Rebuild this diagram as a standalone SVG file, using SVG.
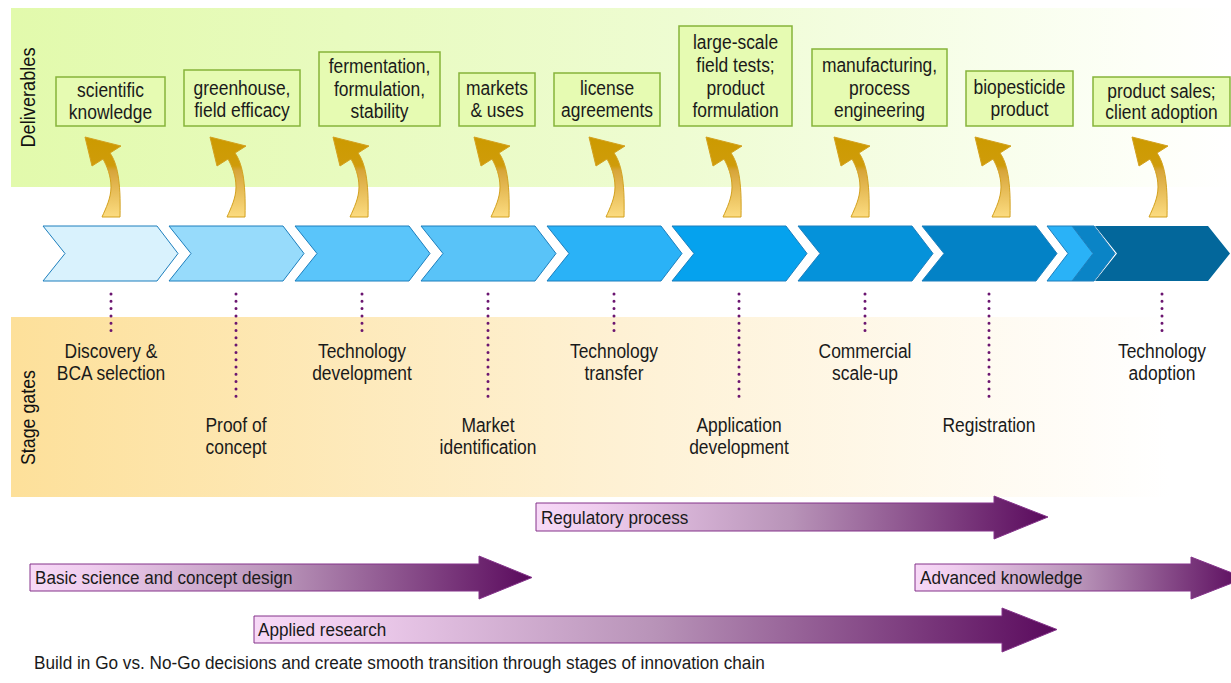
<svg xmlns="http://www.w3.org/2000/svg" xmlns:xlink="http://www.w3.org/1999/xlink" width="1231" height="683" viewBox="0 0 1231 683">
  <style>
    .lbl { font-family: "Liberation Sans", Arial, sans-serif; font-size: 21px; fill: #1a1a1a; text-anchor: middle; }
    .band { font-family: "Liberation Sans", Arial, sans-serif; font-size: 21px; fill: #111; text-anchor: middle; }
    .bar { font-family: "Liberation Sans", Arial, sans-serif; font-size: 19px; fill: #1a1a1a; }
    .box { fill: #e6fbb2; stroke: #86b43a; stroke-width: 1.5; }
    .chev { stroke: #1d7fbd; stroke-width: 1; }
    .gate { stroke: #6b1570; stroke-width: 3; stroke-linecap: round; stroke-dasharray: 0 7.3; fill: none; }
    .phase { fill: url(#purpleFade); stroke: #84338a; stroke-width: 1; }
    .curl { fill: url(#goldFade); stroke: #d3a11e; stroke-width: 1; }
  </style>
  <defs>
    <linearGradient id="greenBand" x1="0" y1="0" x2="1" y2="0">
      <stop offset="0" stop-color="#e2faac"/>
      <stop offset="0.55" stop-color="#eefcd2"/>
      <stop offset="0.93" stop-color="#fdfff8"/>
      <stop offset="1" stop-color="#ffffff"/>
    </linearGradient>
    <linearGradient id="orangeBand" x1="0" y1="0" x2="1" y2="0">
      <stop offset="0" stop-color="#fde09a"/>
      <stop offset="0.5" stop-color="#fef1d4"/>
      <stop offset="0.95" stop-color="#ffffff"/>
      <stop offset="1" stop-color="#ffffff"/>
    </linearGradient>
    <linearGradient id="purpleFade" x1="0" y1="0" x2="1" y2="0">
      <stop offset="0" stop-color="#f7d9f7"/>
      <stop offset="0.12" stop-color="#efcdee"/>
      <stop offset="0.5" stop-color="#b893b8"/>
      <stop offset="1" stop-color="#5a0a5d"/>
    </linearGradient>
    <linearGradient id="goldFade" x1="0" y1="0" x2="0" y2="1">
      <stop offset="0" stop-color="#cc9a00"/>
      <stop offset="0.36" stop-color="#cf9c0a"/>
      <stop offset="0.42" stop-color="#d7a53a"/>
      <stop offset="1" stop-color="#fcdc80"/>
    </linearGradient>
    <!-- curved arrow from a stage up to its deliverable -->
    <path id="curlShape" class="curl" d="M102,217 C106,208 111,198 111,187 C111,176 107,166 103,159 L92,166 L85,137 L121,146 L110,153 C117,163 121,180 120,217 Z"/>
  </defs>

  <!-- background bands -->
  <rect x="11" y="8" width="1220" height="179" fill="url(#greenBand)"/>
  <rect x="11" y="317" width="1220" height="180" fill="url(#orangeBand)"/>
  <text class="band" transform="translate(34.5,97.5) rotate(-90)" textLength="100" lengthAdjust="spacingAndGlyphs">Deliverables</text>
  <text class="band" transform="translate(34.5,417.5) rotate(-90)" textLength="95" lengthAdjust="spacingAndGlyphs">Stage gates</text>

  <!-- deliverables (labels drawn in a condensed face) -->
  <g id="deliv-1"><rect class="box" x="56" y="77" width="109" height="49"/>
    <text class="lbl" transform="translate(110.5,97) scale(0.83,1)">scientific</text>
    <text class="lbl" transform="translate(110.5,119) scale(0.83,1)">knowledge</text></g>
  <g id="deliv-2"><rect class="box" x="184" y="70" width="116" height="56"/>
    <text class="lbl" transform="translate(242,95) scale(0.83,1)">greenhouse,</text>
    <text class="lbl" transform="translate(242,117) scale(0.83,1)">field efficacy</text></g>
  <g id="deliv-3"><rect class="box" x="319" y="52" width="121" height="74"/>
    <text class="lbl" transform="translate(379.5,73) scale(0.83,1)">fermentation,</text>
    <text class="lbl" transform="translate(379.5,95.5) scale(0.83,1)">formulation,</text>
    <text class="lbl" transform="translate(379.5,118) scale(0.83,1)">stability</text></g>
  <g id="deliv-4"><rect class="box" x="459" y="73" width="76" height="53"/>
    <text class="lbl" transform="translate(497,95) scale(0.83,1)">markets</text>
    <text class="lbl" transform="translate(497,117) scale(0.83,1)">&amp; uses</text></g>
  <g id="deliv-5"><rect class="box" x="554" y="73" width="106" height="53"/>
    <text class="lbl" transform="translate(607,95) scale(0.83,1)">license</text>
    <text class="lbl" transform="translate(607,117) scale(0.83,1)">agreements</text></g>
  <g id="deliv-6"><rect class="box" x="679" y="26" width="113" height="100"/>
    <text class="lbl" transform="translate(735.5,49) scale(0.83,1)">large-scale</text>
    <text class="lbl" transform="translate(735.5,72) scale(0.83,1)">field tests;</text>
    <text class="lbl" transform="translate(735.5,95) scale(0.83,1)">product</text>
    <text class="lbl" transform="translate(735.5,117) scale(0.83,1)">formulation</text></g>
  <g id="deliv-7"><rect class="box" x="812" y="49" width="135" height="77"/>
    <text class="lbl" transform="translate(879.5,72) scale(0.83,1)">manufacturing,</text>
    <text class="lbl" transform="translate(879.5,95) scale(0.83,1)">process</text>
    <text class="lbl" transform="translate(879.5,117) scale(0.83,1)">engineering</text></g>
  <g id="deliv-8"><rect class="box" x="966" y="71" width="107" height="55"/>
    <text class="lbl" transform="translate(1019.5,94) scale(0.83,1)">biopesticide</text>
    <text class="lbl" transform="translate(1019.5,116) scale(0.83,1)">product</text></g>
  <g id="deliv-9"><rect class="box" x="1093" y="77" width="137" height="49"/>
    <text class="lbl" transform="translate(1161.5,98) scale(0.83,1)">product sales;</text>
    <text class="lbl" transform="translate(1161.5,119) scale(0.83,1)">client adoption</text></g>

  <!-- connectors: curls, gate markers -->
  <g id="connectors">
    <use xlink:href="#curlShape"/>
    <use xlink:href="#curlShape" x="125"/>
    <use xlink:href="#curlShape" x="248"/>
    <use xlink:href="#curlShape" x="389"/>
    <use xlink:href="#curlShape" x="504"/>
    <use xlink:href="#curlShape" x="621"/>
    <use xlink:href="#curlShape" x="749"/>
    <use xlink:href="#curlShape" x="890"/>
    <use xlink:href="#curlShape" x="1047"/>
    <line class="gate" x1="111" y1="294" x2="111" y2="331"/>
    <line class="gate" x1="236" y1="294" x2="236" y2="403"/>
    <line class="gate" x1="362" y1="294" x2="362" y2="331"/>
    <line class="gate" x1="488" y1="294" x2="488" y2="403"/>
    <line class="gate" x1="614" y1="294" x2="614" y2="331"/>
    <line class="gate" x1="739" y1="294" x2="739" y2="403"/>
    <line class="gate" x1="865" y1="294" x2="865" y2="331"/>
    <line class="gate" x1="989" y1="294" x2="989" y2="403"/>
    <line class="gate" x1="1162" y1="294" x2="1162" y2="331"/>
  </g>

  <!-- stage chevrons -->
  <g id="stage-1"><polygon class="chev" fill="#d9f2fd" points="43,226 157,226 178,253.5 157,281 43,281 65,253.5"/></g>
  <g id="stage-2"><polygon class="chev" fill="#97dbfb" points="169,226 283,226 304,253.5 283,281 169,281 191,253.5"/></g>
  <g id="stage-3"><polygon class="chev" fill="#5ac5fa" points="295,226 409,226 430,253.5 409,281 295,281 317,253.5"/></g>
  <g id="stage-4"><polygon class="chev" fill="#59c3f8" points="421,226 535,226 556,253.5 535,281 421,281 443,253.5"/></g>
  <g id="stage-5"><polygon class="chev" fill="#2ab2f7" points="547,226 661,226 682,253.5 661,281 547,281 569,253.5"/></g>
  <g id="stage-6"><polygon class="chev" fill="#05a2ee" points="672,226 786,226 807,253.5 786,281 672,281 694,253.5"/></g>
  <g id="stage-7"><polygon class="chev" fill="#0592da" points="798,226 912,226 933,253.5 912,281 798,281 820,253.5"/></g>
  <g id="stage-8"><polygon class="chev" fill="#0382c6" points="922,226 1036,226 1057,253.5 1036,281 922,281 944,253.5"/></g>
  <g id="stage-9">
    <polygon fill="#03679b" points="1095,226 1208,226 1230,253.5 1208,281 1095,281 1117,253.5"/>
    <polygon class="chev" fill="#0a84c6" stroke="#0a75b0" points="1072,226 1094,226 1115,253.5 1094,281 1072,281 1093,253.5"/>
    <polygon class="chev" fill="#2ab2f7" points="1047,226 1072,226 1093,253.5 1072,281 1047,281 1068,253.5"/>
  </g>

  <!-- stage gate labels -->
  <g id="gate-1"><text class="lbl" transform="translate(111,358) scale(0.83,1)">Discovery &amp;</text>
    <text class="lbl" transform="translate(111,380) scale(0.83,1)">BCA selection</text></g>
  <g id="gate-2"><text class="lbl" transform="translate(236,432) scale(0.83,1)">Proof of</text>
    <text class="lbl" transform="translate(236,454) scale(0.83,1)">concept</text></g>
  <g id="gate-3"><text class="lbl" transform="translate(362,358) scale(0.83,1)">Technology</text>
    <text class="lbl" transform="translate(362,380) scale(0.83,1)">development</text></g>
  <g id="gate-4"><text class="lbl" transform="translate(488,432) scale(0.83,1)">Market</text>
    <text class="lbl" transform="translate(488,454) scale(0.83,1)">identification</text></g>
  <g id="gate-5"><text class="lbl" transform="translate(614,358) scale(0.83,1)">Technology</text>
    <text class="lbl" transform="translate(614,380) scale(0.83,1)">transfer</text></g>
  <g id="gate-6"><text class="lbl" transform="translate(739,432) scale(0.83,1)">Application</text>
    <text class="lbl" transform="translate(739,454) scale(0.83,1)">development</text></g>
  <g id="gate-7"><text class="lbl" transform="translate(865,358) scale(0.83,1)">Commercial</text>
    <text class="lbl" transform="translate(865,380) scale(0.83,1)">scale-up</text></g>
  <g id="gate-8"><text class="lbl" transform="translate(989,432) scale(0.83,1)">Registration</text></g>
  <g id="gate-9"><text class="lbl" transform="translate(1162,358) scale(0.83,1)">Technology</text>
    <text class="lbl" transform="translate(1162,380) scale(0.83,1)">adoption</text></g>

  <!-- phase arrows -->
  <g id="phase-regulatory"><path class="phase" d="M536,503 H994 V496 L1048,517 L994,539 V531 H536 Z"/>
    <text class="bar" transform="translate(541,524) scale(0.9,1)">Regulatory process</text></g>
  <g id="phase-basic"><path class="phase" d="M30,564 H479 V556 L532,577.5 L479,599 V591 H30 Z"/>
    <text class="bar" transform="translate(35,584) scale(0.9,1)">Basic science and concept design</text></g>
  <g id="phase-advanced"><path class="phase" d="M915,564 H1191 V557 L1245,578 L1191,599 V591 H915 Z"/>
    <text class="bar" transform="translate(920,584) scale(0.9,1)">Advanced knowledge</text></g>
  <g id="phase-applied"><path class="phase" d="M254,616 H1002 V608 L1057,629.5 L1002,652 V643 H254 Z"/>
    <text class="bar" transform="translate(258,636) scale(0.9,1)">Applied research</text></g>

  <text class="bar" transform="translate(34,669) scale(0.905,1)" font-size="18.5">Build in Go vs. No-Go decisions and create smooth transition through stages of innovation chain</text>
</svg>
